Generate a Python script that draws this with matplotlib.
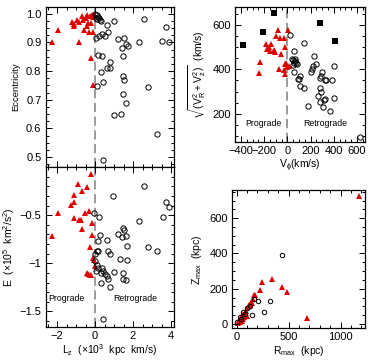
import matplotlib
matplotlib.use('Agg')
import matplotlib.pyplot as plt
from matplotlib.ticker import MultipleLocator

plt.rcParams['font.family'] = ['Liberation Sans', 'DejaVu Sans']
plt.rcParams['mathtext.default'] = 'regular'
plt.rcParams['font.size'] = 7
plt.rcParams['xtick.labelsize'] = 8
plt.rcParams['ytick.labelsize'] = 8

# --- eccentricity vs Lz ---
pro_lz_ecc = [-2.28, -1.93, -1.23, -1.09, -1.09, -0.96, -0.83, -0.70, -0.65, -0.44, -0.26,
              -0.17, -0.35, -0.23, -0.44, -0.56, -0.30, -0.09, -0.84, -0.21, -0.09, -0.50,
              -0.12, -0.05]
pro_ecc = [0.903, 0.942, 0.971, 0.965, 0.956, 0.977, 0.970, 0.991, 0.977, 0.997, 0.993,
           0.997, 0.967, 0.967, 0.958, 0.944, 0.935, 0.935, 0.903, 0.845, 0.752, 0.985,
           0.990, 0.995]
ret_lz_ecc = [0.02, 0.08, 0.14, 0.20, 0.05, 0.24, 0.30, 0.10, 0.61, 1.00, 2.58, 3.72,
              0.05, 0.23, 0.39, 0.53, 0.70, 1.23, 1.54, 1.63, 1.72, 1.40, 2.33, 3.54,
              3.89, 0.18, 0.35, 1.46, 0.79, 0.61, 0.79, 0.32, 1.46, 1.53, 0.09, 0.44,
              2.81, 1.46, 1.63, 1.02, 1.35, 3.28, 0.40]
ret_ecc = [0.998, 0.994, 0.990, 0.985, 0.986, 0.978, 0.976, 0.980, 0.962, 0.973, 0.983,
           0.952, 0.915, 0.923, 0.929, 0.921, 0.936, 0.911, 0.915, 0.894, 0.889, 0.880,
           0.900, 0.906, 0.903, 0.857, 0.851, 0.851, 0.830, 0.810, 0.812, 0.795, 0.781,
           0.767, 0.748, 0.760, 0.744, 0.720, 0.690, 0.647, 0.650, 0.580, 0.490]

# --- energy vs Lz ---
pro_lz_e = [-0.21, -0.91, -0.44, -0.70, -1.09, -1.09, -1.26, -1.93, -0.53, -0.32, -1.09,
            -0.84, -0.74, -0.18, -0.70, -0.18, -2.28, -0.26, -0.09, 0.00, -0.44, -0.35,
            -0.28, -0.21, -0.05]
pro_e = [-0.076, -0.18, -0.21, -0.25, -0.29, -0.36, -0.39, -0.48, -0.48, -0.46, -0.53,
         -0.545, -0.545, -0.58, -0.64, -0.71, -0.72, -0.83, -0.94, -1.03, -1.10, -1.11,
         -1.12, -1.12, -0.97]
ret_lz_e = [0.96, 2.60, 3.72, 3.91, 3.56, 2.33, -0.05, 0.21, 1.46, 1.54, 1.23, 1.40,
            1.63, 0.26, 0.18, 0.61, 1.70, 2.81, 3.28, 0.09, 0.18, 0.70, 0.79, 0.00,
            1.32, 1.67, 0.00, 0.08, 0.16, 0.05, 0.35, 0.40, 0.32, 0.53, 0.61, 0.67,
            1.00, 1.46, 1.46, 1.63, 0.32, 0.79, 0.40]
ret_e = [-0.30, -0.20, -0.36, -0.41, -0.52, -0.56, -0.48, -0.52, -0.63, -0.655, -0.70,
         -0.73, -0.72, -0.71, -0.77, -0.76, -0.82, -0.83, -0.87, -0.87, -0.87, -0.87,
         -0.90, -0.90, -0.96, -0.97, -0.98, -1.02, -1.05, -1.08, -1.05, -1.08, -1.10,
         -1.11, -1.13, -1.16, -1.09, -1.10, -1.16, -1.17, -1.20, -1.25, -1.58]

# --- perpendicular velocity vs Vphi ---
pro_vphi = [-80, 3, -95, -60, -26, -181, -161, -138, -175, -118, -109, -153, -17, -54,
            -239, -241, -75, -32, -23, -9, 11, -20, -3]
pro_vperp = [578, 578, 551, 540, 540, 513, 502, 513, 491, 488, 477, 480, 502, 468,
             434, 383, 401, 395, 380, 428, 413, 423, 410]
ret_vphi = [26, 141, 54, 227, 405, 40, 50, 62, 75, 85, 45, 58, 70, 250, 221, 213, 207,
            299, 290, 328, 385, 112, 103, 54, 112, 147, 278, 334, 278, 293, 261, 284,
            319, 328, 405, 178, 307, 365, 623, 89]
ret_vperp = [555, 520, 483, 458, 417, 446, 440, 436, 430, 425, 420, 428, 445, 423, 413,
             401, 386, 390, 368, 353, 353, 371, 356, 390, 327, 315, 360, 353, 315, 300,
             281, 255, 263, 267, 273, 236, 230, 215, 98, 357]
sq_vphi = [-385, -207, -112, 284, 414]
sq_vperp = [510, 567, 652, 607, 529]

# --- Zmax vs Rmax ---
pro_rmax = [1176, 249, 345, 437, 484, 678, 230, 176, 170, 160, 138, 119, 107, 88, 65,
            43, 24, 11, 74, 97, 50, 30, 60, 80, 130, 150]
pro_zmax = [725, 240, 253, 210, 181, 32, 191, 165, 163, 144, 125, 107, 94, 75, 56, 37,
            22, 6, 37, 47, 19, 12, 30, 60, 110, 120]
ret_rmax = [440, 319, 265, 208, 145, 170, 129, 97, 65, 33, 2, 45, 80]
ret_zmax = [393, 131, 66, 128, 52, 140, 103, 88, 69, 37, 13, 30, 55]

red = '#e00000'
tri = dict(marker='^', color=red, ms=4.2, ls='none', mew=0)
circ = dict(marker='o', mfc='none', mec='black', ms=3.8, mew=0.7, ls='none')
dash = dict(color='gray', ls=(0, (6, 3)), lw=1.1, zorder=0)


def style(ax):
    ax.tick_params(which='both', direction='in', top=True, right=True, width=0.7)
    ax.tick_params(which='major', length=4, pad=3)
    ax.tick_params(which='minor', length=2)
    for s in ax.spines.values():
        s.set_linewidth(0.9)


fig = plt.figure(figsize=(3.68, 3.6), dpi=100)
ax1 = fig.add_axes([0.124, 0.536, 0.349, 0.445])
ax2 = fig.add_axes([0.124, 0.092, 0.349, 0.444], sharex=ax1)
ax3 = fig.add_axes([0.639, 0.606, 0.353, 0.375])
ax4 = fig.add_axes([0.630, 0.088, 0.362, 0.384])

# top left
ax1.plot(pro_lz_ecc, pro_ecc, **tri)
ax1.plot(ret_lz_ecc, ret_ecc, **circ)
ax1.axvline(0, **dash)
ax1.set_xlim(-2.6, 4.16)
ax1.set_ylim(0.465, 1.024)
ax1.yaxis.set_major_locator(MultipleLocator(0.1))
ax1.yaxis.set_minor_locator(MultipleLocator(0.025))
ax1.xaxis.set_major_locator(MultipleLocator(2))
ax1.xaxis.set_minor_locator(MultipleLocator(0.5))
ax1.set_ylabel('Eccentricity', fontsize=6.8, labelpad=4)
ax1.tick_params(labelbottom=False)
style(ax1)

# bottom left
ax2.plot(pro_lz_e, pro_e, **tri)
ax2.plot(ret_lz_e, ret_e, **circ)
ax2.axvline(0, **dash)
ax2.set_ylim(-1.66, 0.0)
ax2.yaxis.set_minor_locator(MultipleLocator(0.1))
ax2.set_yticks([-0.5, -1, -1.5])
ax2.set_yticklabels(['\u22120.5', '\u22121', '\u22121.5'])
ax2.set_ylabel('E  (\u00d710$^5$  km$^2$/s$^2$)', fontsize=7.5, labelpad=2)
ax2.set_xlabel('L$_z$  (\u00d710$^3$  kpc  km/s)', fontsize=7.5, labelpad=0.5)
ax2.text(-1.49, -1.37, 'Prograde', ha='center', va='center', fontsize=6.3)
ax2.text(2.1, -1.37, 'Retrograde', ha='center', va='center', fontsize=6.3)
style(ax2)

# top right
ax3.plot(pro_vphi, pro_vperp, **tri)
ax3.plot(ret_vphi, ret_vperp, **circ)
ax3.plot(sq_vphi, sq_vperp, marker='s', color='black', ms=3.8, ls='none', mew=0)
ax3.axvline(0, **dash)
ax3.set_xlim(-450, 670)
ax3.set_ylim(75, 680)
ax3.xaxis.set_major_locator(MultipleLocator(200))
ax3.xaxis.set_minor_locator(MultipleLocator(50))
ax3.yaxis.set_major_locator(MultipleLocator(200))
ax3.yaxis.set_minor_locator(MultipleLocator(50))
ax3.set_ylabel(r'$\sqrt{(V_R^2+V_z^2)}$  (km/s)', fontsize=7.5, labelpad=3)
ax3.set_xlabel(r'V$_\phi$(km/s)', fontsize=7.5, labelpad=1)
ax3.text(-204, 158, 'Prograde', ha='center', va='center', fontsize=6.3)
ax3.text(328, 158, 'Retrograde', ha='center', va='center', fontsize=6.3)
style(ax3)

# bottom right
ax4.plot(pro_rmax, pro_zmax, **tri)
ax4.plot(ret_rmax, ret_zmax, marker='o', mfc='none', mec='black', ms=3.2, mew=0.7, ls='none')
ax4.set_xlim(-45, 1235)
ax4.set_ylim(-25, 760)
ax4.xaxis.set_major_locator(MultipleLocator(500))
ax4.xaxis.set_minor_locator(MultipleLocator(100))
ax4.yaxis.set_major_locator(MultipleLocator(200))
ax4.yaxis.set_minor_locator(MultipleLocator(50))
ax4.set_ylabel('Z$_{max}$  (kpc)', fontsize=7.5, labelpad=4)
ax4.set_xlabel('R$_{max}$  (kpc)', fontsize=7.5, labelpad=1)
style(ax4)

fig.savefig('out.png', dpi=100)
